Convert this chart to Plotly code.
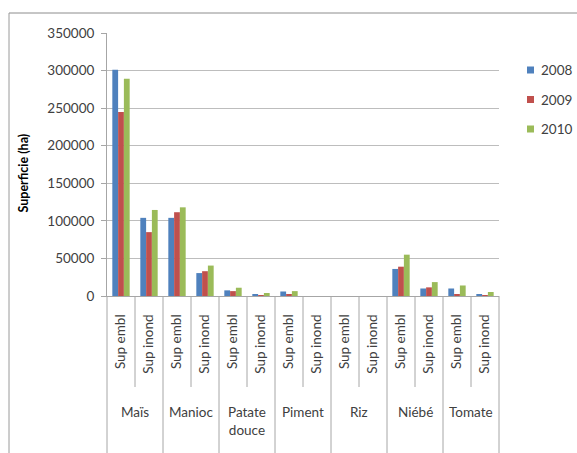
import plotly.graph_objects as go

# Crops and the two surface measures reported for each
crops = ["Maïs", "Manioc", "Patate<br>douce", "Piment", "Riz", "Niébé", "Tomate"]
measures = ["Sup embl", "Sup inond"]
years = ["2008", "2009", "2010"]

# Surface (ha), ordered crop by crop: Sup embl then Sup inond
sup_2008 = [301000, 104000, 104000, 30500, 7500, 2000, 6000, 0, 0, 0, 36000, 10000, 10000, 2000]
sup_2009 = [245000, 85000, 111500, 33000, 6500, 1000, 2500, 0, 0, 0, 39000, 11500, 2000, 300]
sup_2010 = [289000, 114500, 118000, 40500, 11000, 4000, 6500, 0, 0, 0, 55000, 18500, 14000, 5300]

colors = ["#4F81BD", "#C0504D", "#9BBB59"]
series = [sup_2008, sup_2009, sup_2010]

keys = [f"{c}|{m}" for c in crops for m in measures]
ticktext = [m for c in crops for m in measures]
n = len(keys)

FONT = "Lato"
TXT = "#404040"
GRID = "#bdbdbd"
AXIS = "#a6a6a6"

H = 263.0  # plot height in px
W = 392.0  # plot width in px

fig = go.Figure()
for yr, vals, col in zip(years, series, colors):
    fig.add_trace(go.Bar(x=keys, y=vals, name=yr, marker=dict(color=col, line=dict(width=0)),
                         showlegend=False))

shapes = []
annotations = []

# dividers between measures (short) and between crops (long)
for k in range(n + 1):
    long_line = (k % 2 == 0)
    shapes.append(dict(type="line", xref="paper", yref="paper",
                       x0=k / n, x1=k / n, y0=0,
                       y1=(-175 / H) if long_line else (-91 / H),
                       line=dict(color=AXIS, width=1)))
# chart frame: top and left edges
shapes.append(dict(type="line", xref="paper", yref="paper",
                   x0=-98 / W, x1=480 / W, y0=283 / H, y1=283 / H,
                   line=dict(color="#8c8c8c", width=1)))
shapes.append(dict(type="line", xref="paper", yref="paper",
                   x0=-98 / W, x1=-98 / W, y0=-200 / H, y1=283 / H,
                   line=dict(color="#9a9a9a", width=1)))

# legend: small colour keys with the year beside them
for i, (yr, col) in enumerate(zip(years, colors)):
    yc = (296 - (70 + 29.5 * i)) / H
    shapes.append(dict(type="rect", xref="paper", yref="paper",
                       x0=(527 - 107) / W, x1=(534 - 107) / W,
                       y0=yc - 3.5 / H, y1=yc + 3.5 / H,
                       line=dict(width=0), fillcolor=col))
    annotations.append(dict(text=yr, xref="paper", yref="paper", x=(539 - 107) / W, y=yc,
                            xanchor="left", yanchor="middle", showarrow=False,
                            font=dict(family=FONT, size=13.5, color=TXT)))

for i, c in enumerate(crops):
    annotations.append(dict(text=c, xref="paper", yref="paper", x=(2 * i + 1) / n, y=-106 / H,
                             xanchor="center", yanchor="top", showarrow=False,
                             font=dict(family=FONT, size=13.5, color=TXT)))
annotations.append(dict(text="<b>Superficie (ha)</b>", xref="paper", yref="paper",
                        x=-84.5 / W, y=(296 - 173) / H, textangle=-90,
                        xanchor="center", yanchor="middle", showarrow=False,
                        font=dict(family=FONT, size=12.5, color="#000000")))

fig.update_layout(
    width=577, height=453,
    margin=dict(l=107, r=78, t=33, b=157, autoexpand=False),
    paper_bgcolor="white", plot_bgcolor="white",
    barmode="group", bargap=0.38, bargroupgap=0,
    showlegend=False,
    font=dict(family=FONT, size=13, color=TXT),
    shapes=shapes, annotations=annotations,
    xaxis=dict(type="category", tickmode="array", tickvals=keys, ticktext=ticktext,
               tickangle=-90, ticks="", showline=True, linecolor=AXIS, linewidth=1,
               showgrid=False, ticklabelstandoff=12,
               tickfont=dict(family=FONT, size=13.5, color=TXT),
               range=[-0.5, n - 0.5]),
    yaxis=dict(range=[0, 350000], tickmode="array", tickvals=list(range(0, 350001, 50000)),
               tickformat="d",
               ticks="outside", ticklen=5, tickcolor=AXIS, showline=True, linecolor=AXIS,
               linewidth=1, showgrid=True, gridcolor=GRID, gridwidth=1, zeroline=False,
               tickfont=dict(family=FONT, size=13.5, color=TXT), ticklabelstandoff=4),
)

fig.write_html("out.html")
